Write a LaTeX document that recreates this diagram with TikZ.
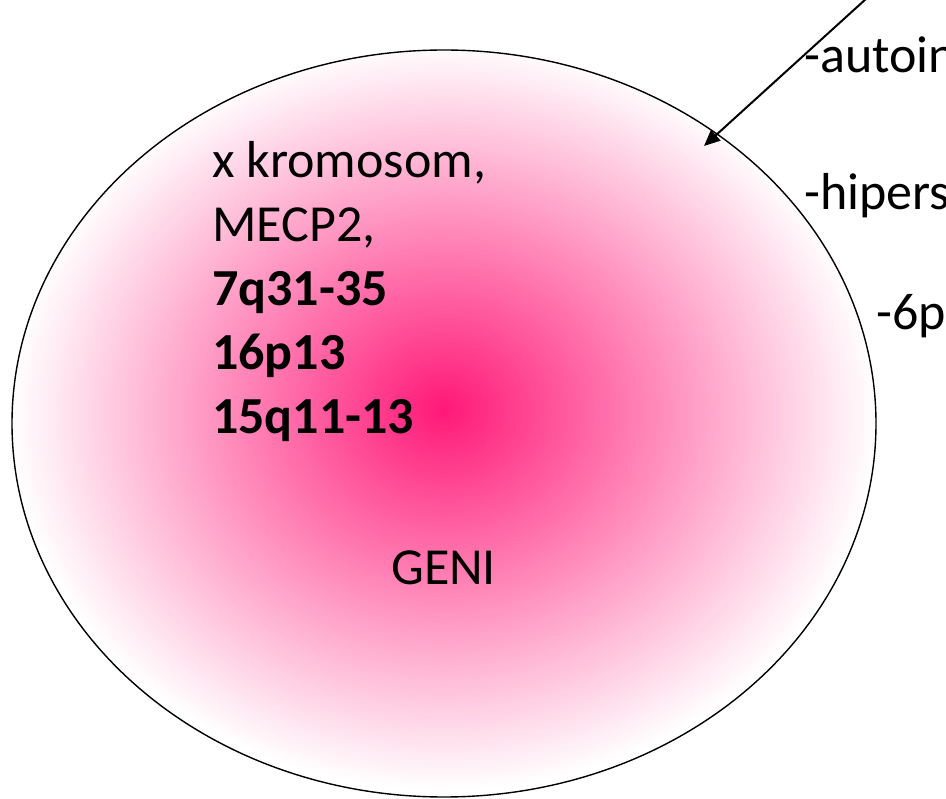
\documentclass[tikz,border=0pt]{standalone}
\usepackage{fontspec}
\setmainfont{Carlito}
\usetikzlibrary{shapes.geometric,arrows.meta}
\definecolor{glowcore}{RGB}{255,25,120}
% radial glow, centre lifted slightly above the middle
\pgfdeclareradialshading{pinkglow}{\pgfpoint{0bp}{1bp}}{%
  color(0bp)=(glowcore); color(25bp)=(white); color(50bp)=(white)}
\tikzset{
  cell/.style={ellipse, draw=black, line width=1.4pt, inner sep=0pt,
    minimum width=864pt, minimum height=747pt, shading=pinkglow},
  label/.style={inner sep=0pt, font=\fontsize{52}{64}\selectfont},
  pointer/.style={line width=2pt, -{Triangle[length=16pt,width=14pt]}}
}
\begin{document}
\begin{tikzpicture}[x=1pt,y=-1pt]
  \useasboundingbox (0,0) rectangle (946,799);
  \clip (0,0) rectangle (946,799);
  \node[cell] (cell) at (444,423.5) {};
  % the base anchor of a multi-line node sits on its last line
  \node[label, anchor=base west, align=left] (loci) at (212,434)
    {x kromosom,\\MECP2,\\\textbf{7q31-35}\\\textbf{16p13}\\\textbf{15q11-13}};
  \node[label, anchor=base west] (geni) at (391,584) {GENI};
  \node[label, anchor=base west] (auto) at (804,73) {-autoin};
  \node[label, anchor=base west] (hiper) at (804,210) {-hipers};
  \node[label, anchor=base west] (sixp) at (876,330) {-6p};
  \coordinate (from) at (867,-2);
  \coordinate (to) at (704,146);
  \draw[pointer] (from) -- (to);
\end{tikzpicture}
\end{document}
